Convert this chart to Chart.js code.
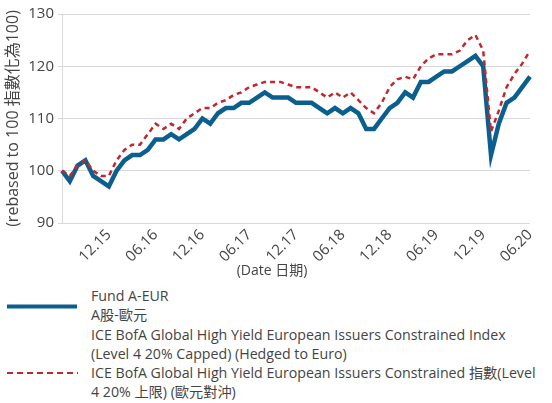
<!DOCTYPE html>
<html>
<head>
<meta charset="utf-8">
<script src="https://cdn.jsdelivr.net/npm/chart.js@4.4.1/dist/chart.umd.min.js"></script>
<style>
html,body{margin:0;padding:0;background:#fff;}
#wrap{position:relative;width:552px;height:403px;overflow:hidden;}
#cbox{position:absolute;left:0;top:0;width:552px;height:285px;}
.lg{position:absolute;left:91px;font-family:"Open Sans","Noto Sans CJK TC",sans-serif;font-size:14.2px;color:#444;white-space:nowrap;line-height:19px;}
#samples{position:absolute;left:0;top:0;}
</style>
</head>
<body>
<div id="wrap">
  <div id="cbox"><canvas id="c" width="552" height="285"></canvas></div>
  <svg id="samples" width="90" height="403"></svg>
  <div class="lg" id="lg1" style="top:286px"></div>
  <div class="lg" id="lg2" style="top:325px"></div>
</div>
<script>
// ---- data ----
const categories = [
  "06.15","07.15","08.15","09.15","10.15","11.15","12.15",
  "01.16","02.16","03.16","04.16","05.16","06.16","07.16","08.16","09.16","10.16","11.16","12.16",
  "01.17","02.17","03.17","04.17","05.17","06.17","07.17","08.17","09.17","10.17","11.17","12.17",
  "01.18","02.18","03.18","04.18","05.18","06.18","07.18","08.18","09.18","10.18","11.18","12.18",
  "01.19","02.19","03.19","04.19","05.19","06.19","07.19","08.19","09.19","10.19","11.19","12.19",
  "01.20","02.20","03.20","04.20","05.20","06.20"
];
const tickLabels = ["12.15","06.16","12.16","06.17","12.17","06.18","12.18","06.19","12.19","06.20"];
const fundValues = [
  100, 98, 101, 102, 99, 98, 97,
  100, 102, 103, 103, 104, 106, 106, 107, 106, 107, 108, 110,
  109, 111, 112, 112, 113, 113, 114, 115, 114, 114, 114, 113,
  113, 113, 112, 111, 112, 111, 112, 111, 108, 108, 110, 112,
  113, 115, 114, 117, 117, 118, 119, 119, 120, 121, 122, 120,
  103, 109, 113, 114, 116, 118
];
const indexValues = [
  100, 99, 101, 102, 100, 99, 99,
  102, 104, 105, 105, 107, 109, 108, 109, 108, 110, 111, 112,
  112, 113, 113.5, 114.5, 115, 116, 116.5, 117, 117, 117, 116.5, 116,
  116, 116, 115, 114, 115, 114, 115, 113.5, 112, 111, 113, 116,
  117.5, 118, 117.5, 120, 121.5, 122.3, 122.3, 122.3, 123, 125, 126, 123,
  107.5, 111.5, 116, 118.5, 120.5, 123
];
const fundLabelLines = ["Fund A-EUR", "A股-歐元"];
const indexLabelLines = [
  "ICE BofA Global High Yield European Issuers Constrained Index",
  "(Level 4 20% Capped) (Hedged to Euro)",
  "ICE BofA Global High Yield European Issuers Constrained 指數(Level",
  "4 20% 上限) (歐元對沖)"
];
const yTitle = "(rebased to 100 指數化為100)";
const xTitle = "(Date 日期)";

// ---- style ----
const FONT = '"Open Sans","Noto Sans CJK TC",sans-serif';
const BLUE = '#0b5f8e';
const RED = '#c1272d';
const GRID = '#d9d9d9';
const TXT = '#444';

// x-axis title drawn centred on the whole canvas width (as in the reference)
const xTitlePlugin = {
  id: 'xTitlePlugin',
  afterDraw(chart) {
    const ctx = chart.ctx;
    const xs = chart.scales.x;
    ctx.save();
    ctx.font = '14px ' + FONT;
    ctx.fillStyle = TXT;
    ctx.textAlign = 'center';
    ctx.textBaseline = 'middle';
    ctx.fillText(xTitle, chart.width / 2 - 4, xs.bottom - 14);
    ctx.restore();
  }
};

new Chart(document.getElementById('c'), {
  type: 'line',
  data: {
    labels: categories,
    datasets: [
      { label: fundLabelLines.join(' '), data: fundValues, borderColor: BLUE, backgroundColor: BLUE,
        borderWidth: 4.5, pointRadius: 0, tension: 0, order: 1 },
      { label: indexLabelLines.join(' '), data: indexValues, borderColor: RED, backgroundColor: RED,
        borderWidth: 2.5, borderDash: [5, 4], pointRadius: 0, tension: 0, order: 0 }
    ]
  },
  options: {
    responsive: false,
    animation: false,
    devicePixelRatio: 1,
    layout: { padding: { top: 14, right: 22, left: 0, bottom: 0 } },
    plugins: { legend: { display: false }, tooltip: { enabled: false } },
    scales: {
      x: {
        grid: { display: false, drawTicks: false, tickLength: 0 },
        border: { display: false },
        ticks: {
          autoSkip: false, minRotation: 45, maxRotation: 45, padding: 3,
          color: TXT, font: { family: FONT, size: 15 },
          callback: function (v, i) { const l = categories[i]; return tickLabels.includes(l) ? l : ''; }
        },
        title: { display: false },
        afterFit: function (s) { s.height = 62; }
      },
      y: {
        min: 90, max: 130,
        ticks: { stepSize: 10, color: TXT, font: { family: FONT, size: 15 }, padding: 4 },
        grid: { color: GRID, tickLength: 4, lineWidth: 1 },
        border: { color: GRID },
        title: { display: true, text: yTitle, color: TXT, font: { family: FONT, size: 16 }, padding: { top: 4, bottom: 4 } },
        afterFit: function (s) { s.width = 62; }
      }
    }
  },
  plugins: [xTitlePlugin]
});

// ---- legend ----
document.getElementById('lg1').innerHTML = fundLabelLines.join('<br>');
document.getElementById('lg2').innerHTML = indexLabelLines.join('<br>');
const svg = document.getElementById('samples');
svg.innerHTML =
  '<line x1="7" y1="306.5" x2="77" y2="306.5" stroke="' + BLUE + '" stroke-width="4"/>' +
  '<line x1="7" y1="373" x2="78" y2="373" stroke="' + RED + '" stroke-width="2" stroke-dasharray="6,4"/>';
</script>
</body>
</html>
